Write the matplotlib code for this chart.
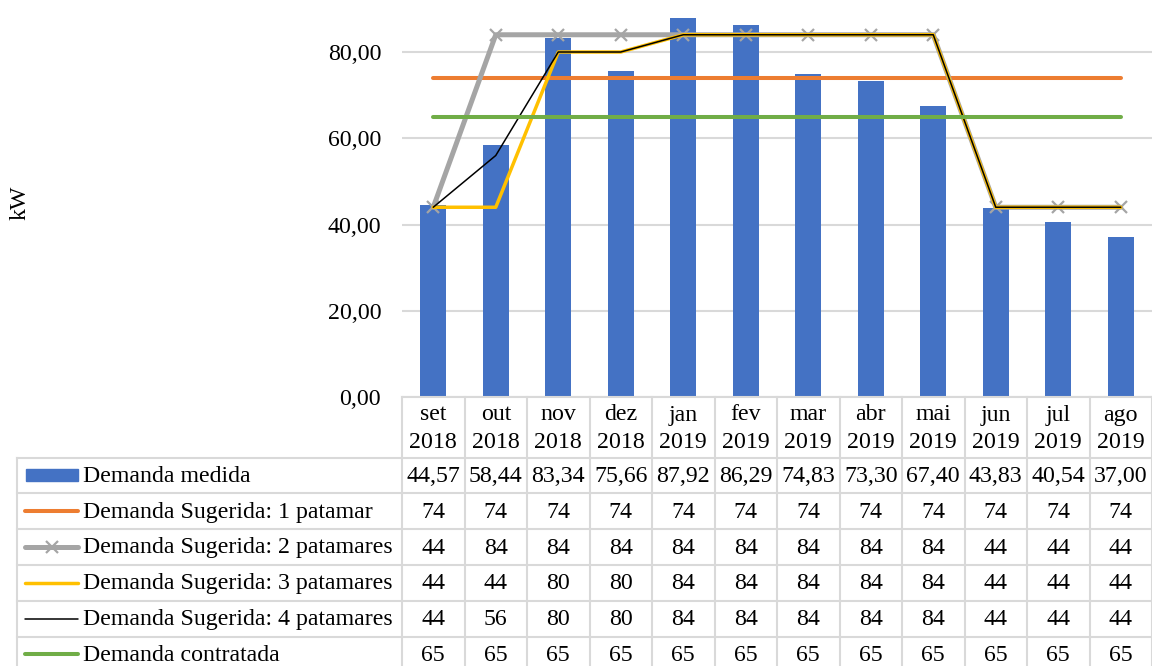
import matplotlib
matplotlib.use("Agg")
import matplotlib.pyplot as plt
from matplotlib.ticker import FuncFormatter, MultipleLocator
from matplotlib.transforms import Affine2D, blended_transform_factory
from matplotlib.lines import Line2D
from matplotlib.patches import Rectangle

plt.rcParams['font.family'] = ['Liberation Serif', 'DejaVu Serif']

months = ["set", "out", "nov", "dez", "jan", "fev", "mar", "abr", "mai", "jun", "jul", "ago"]
years = ["2018", "2018", "2018", "2018", "2019", "2019", "2019", "2019", "2019", "2019", "2019", "2019"]

demanda_medida = [44.57, 58.44, 83.34, 75.66, 87.92, 86.29, 74.83, 73.30, 67.40, 43.83, 40.54, 37.00]
sugerida_1 = [74, 74, 74, 74, 74, 74, 74, 74, 74, 74, 74, 74]
sugerida_2 = [44, 84, 84, 84, 84, 84, 84, 84, 84, 44, 44, 44]
sugerida_3 = [44, 44, 80, 80, 84, 84, 84, 84, 84, 44, 44, 44]
sugerida_4 = [44, 56, 80, 80, 84, 84, 84, 84, 84, 44, 44, 44]
contratada = [65, 65, 65, 65, 65, 65, 65, 65, 65, 65, 65, 65]

names = ["Demanda medida",
         "Demanda Sugerida: 1 patamar",
         "Demanda Sugerida: 2 patamares",
         "Demanda Sugerida: 3 patamares",
         "Demanda Sugerida: 4 patamares",
         "Demanda contratada"]

BLUE = "#4472C4"
ORANGE = "#ED7D31"
GRAY = "#A5A5A5"
YELLOW = "#FFC000"
BLACK = "#000000"
GREEN = "#70AD47"
GRID = "#D9D9D9"
FS = 17.2

W, H = 1152, 666
fig = plt.figure(figsize=(W / 100, H / 100), dpi=100)
ax = fig.add_axes([402 / W, 269 / H, 750 / W, 397 / H])

x = list(range(len(months)))
ax.bar(x, demanda_medida, width=0.42, color=BLUE, zorder=2)

line_styles = [
    dict(color=ORANGE, lw=2.9),
    dict(color=GRAY, lw=3.6, marker="x", ms=9, mew=1.6, mec=GRAY),
    dict(color=YELLOW, lw=2.5),
    dict(color=BLACK, lw=1.1),
    dict(color=GREEN, lw=2.9),
]
series = [sugerida_1, sugerida_2, sugerida_3, sugerida_4, contratada]
for i, (vals, st) in enumerate(zip(series, line_styles)):
    ax.plot(x, vals, solid_capstyle="round", solid_joinstyle="round", zorder=3 + i, **st)

ax.set_xlim(-0.5, len(months) - 0.5)
ax.set_ylim(0, 92.06)
ax.yaxis.set_major_locator(MultipleLocator(20))
ax.yaxis.set_major_formatter(FuncFormatter(lambda v, p: f"{v:.2f}".replace(".", ",")))
ax.tick_params(axis="y", length=0, pad=15, labelsize=FS)
ax.tick_params(axis="x", length=0, labelbottom=False)
ax.grid(axis="y", color=GRID, lw=1.5, zorder=0)
for s in ax.spines.values():
    s.set_visible(False)

fig.text(20 / W, 1 - 203 / H, "kW", rotation=90, ha="center", va="center", fontsize=FS)

# data table below the axes: x follows the category axis, y in pixels from the top
pix = Affine2D().scale(1 / W, -1 / H).translate(0, 1) + fig.transFigure
colx = blended_transform_factory(ax.transData, pix)

top, head_bot = 397, 457.5
row_h = 35.8
row_edges = [head_bot + row_h * k for k in range(len(names) + 1)]
left_px = 17

line_kw = dict(color=GRID, lw=1.5, clip_on=False)
n = len(months)
# horizontal rules
fig.add_artist(Line2D([-0.5, n - 0.5], [top, top], transform=colx, **line_kw))
for yy in row_edges:
    fig.add_artist(Line2D([left_px, W], [yy, yy], transform=pix, **line_kw))
# vertical rules
for b in range(n + 1):
    fig.add_artist(Line2D([b - 0.5, b - 0.5], [top, H + 10], transform=colx, **line_kw))
fig.add_artist(Line2D([left_px, left_px], [head_bot, H + 10], transform=pix, **line_kw))

# column headers
for i, (m, yv) in enumerate(zip(months, years)):
    fig.text(i, 415, m, transform=colx, ha="center", va="center", fontsize=FS)
    fig.text(i, 442, yv, transform=colx, ha="center", va="center", fontsize=FS)

# rows: legend key, name and values
all_rows = [demanda_medida] + series
for r, (name, vals) in enumerate(zip(names, all_rows)):
    yc = (row_edges[r] + row_edges[r + 1]) / 2
    if r == 0:
        fig.add_artist(Rectangle((26, yc - 6), 52, 12, transform=pix, color=BLUE))
        txt = [f"{v:.2f}".replace(".", ",") for v in vals]
    else:
        st = dict(line_styles[r - 1])
        mk = st.pop("marker", None)
        ms = st.pop("ms", None)
        mew = st.pop("mew", None)
        mec = st.pop("mec", None)
        fig.add_artist(Line2D([25, 78], [yc, yc], transform=pix,
                              solid_capstyle="round", **st))
        if mk:
            fig.add_artist(Line2D([51.5], [yc], transform=pix, marker=mk, ms=ms,
                                  mew=mew, mec=mec, lw=0))
        txt = [f"{v:g}" for v in vals]
    fig.text(83, yc + 1, name, transform=pix, ha="left", va="center", fontsize=FS)
    for i, t in enumerate(txt):
        fig.text(i, yc + 1, t, transform=colx, ha="center", va="center", fontsize=FS)

fig.savefig("out.png", dpi=100)
